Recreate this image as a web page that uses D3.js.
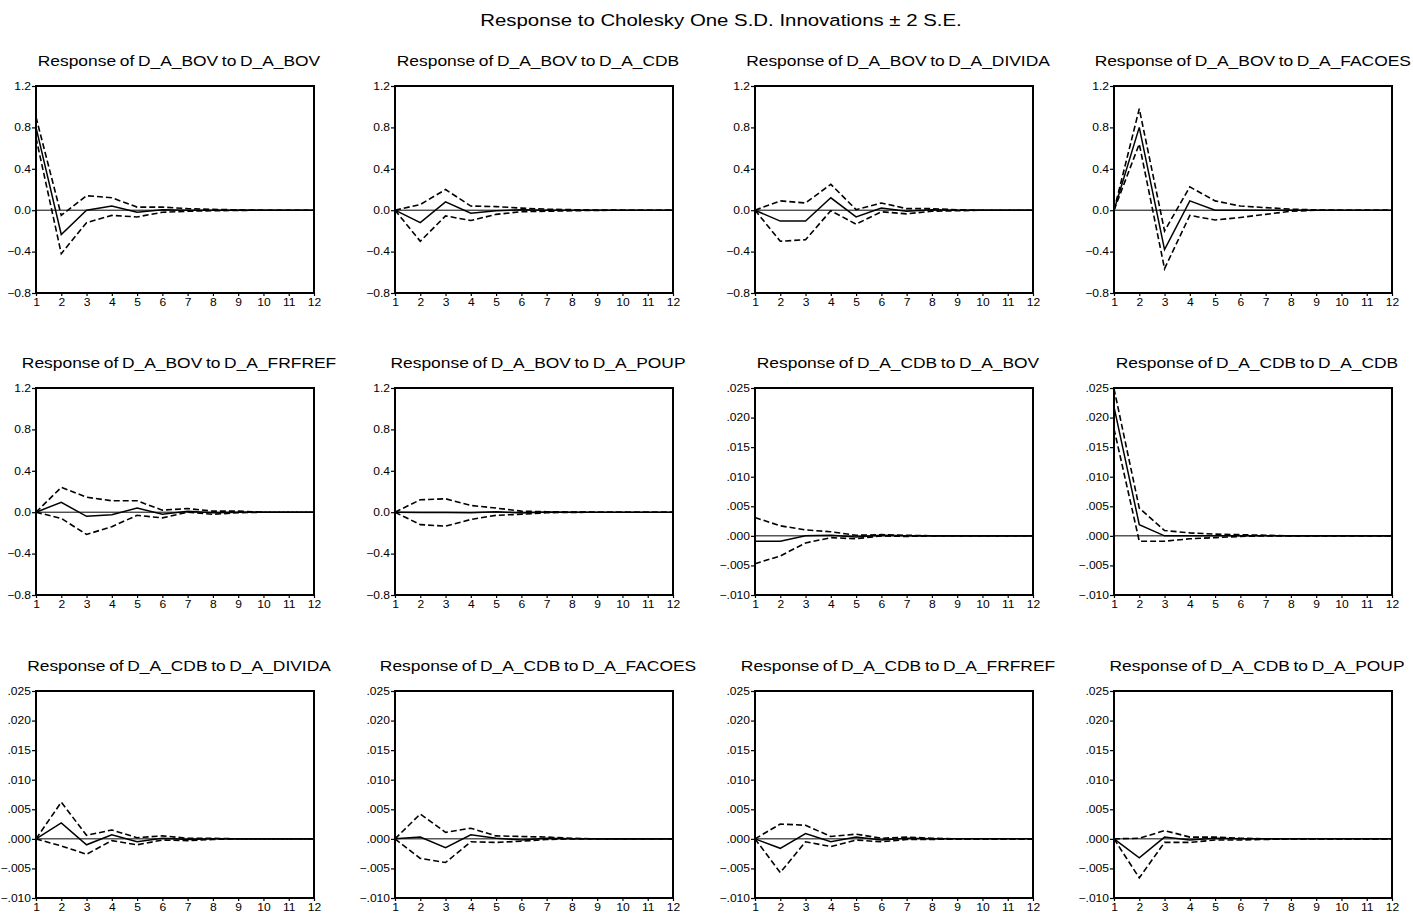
<!DOCTYPE html>
<html>
<head>
<meta charset="utf-8">
<script src="https://cdn.jsdelivr.net/npm/d3@7"></script>
<style>
  body { margin: 0; background: #fff; }
  text { font-family: "Liberation Sans", Arial, sans-serif; fill: #000; }
</style>
</head>
<body>
<div id="chart"></div>
<script>
// periods of the impulse response
var periods = [1, 2, 3, 4, 5, 6, 7, 8, 9, 10, 11, 12];

var panelTitles = [
  "Response of D_A_BOV to D_A_BOV",
  "Response of D_A_BOV to D_A_CDB",
  "Response of D_A_BOV to D_A_DIVIDA",
  "Response of D_A_BOV to D_A_FACOES",
  "Response of D_A_BOV to D_A_FRFREF",
  "Response of D_A_BOV to D_A_POUP",
  "Response of D_A_CDB to D_A_BOV",
  "Response of D_A_CDB to D_A_CDB",
  "Response of D_A_CDB to D_A_DIVIDA",
  "Response of D_A_CDB to D_A_FACOES",
  "Response of D_A_CDB to D_A_FRFREF",
  "Response of D_A_CDB to D_A_POUP"
];

// which y axis each panel uses
var panelScale = ["bov", "bov", "bov", "bov", "bov", "bov", "cdb", "cdb", "cdb", "cdb", "cdb", "cdb"];

var bovTicks = [-0.8, -0.4, 0.0, 0.4, 0.8, 1.2];
var cdbTicks = [-0.010, -0.005, 0.000, 0.005, 0.010, 0.015, 0.020, 0.025];

// impulse responses (solid line)
var responses = [
  [0.80, -0.235, 0.0, 0.04, -0.02, 0.005, 0.0, 0.0, 0.0, 0.0, 0.0, 0.0],
  [0.0, -0.12, 0.08, -0.03, -0.005, 0.005, 0.0, 0.0, 0.0, 0.0, 0.0, 0.0],
  [0.0, -0.105, -0.105, 0.12, -0.065, 0.02, -0.01, 0.005, 0.0, 0.0, 0.0, 0.0],
  [0.0, 0.80, -0.38, 0.09, 0.0, 0.0, 0.0, 0.0, 0.0, 0.0, 0.0, 0.0],
  [0.0, 0.095, -0.04, -0.025, 0.04, -0.02, 0.01, -0.005, 0.0, 0.0, 0.0, 0.0],
  [0.0, -0.002, -0.003, -0.005, 0.005, -0.008, 0.002, 0.0, 0.0, 0.0, 0.0, 0.0],
  [-0.0009, -0.0009, 0.0, 0.0001, -0.0002, 0.0001, 0.0, 0.0, 0.0, 0.0, 0.0, 0.0],
  [0.0218, 0.0019, 0.0, 0.0, 0.0, 0.0, 0.0, 0.0, 0.0, 0.0, 0.0, 0.0],
  [0.0, 0.0027, -0.001, 0.0007, -0.0005, 0.0001, -0.0001, 0.0, 0.0, 0.0, 0.0, 0.0],
  [0.0, 0.0003, -0.0015, 0.0007, 0.0001, -0.0002, 0.0001, 0.0, 0.0, 0.0, 0.0, 0.0],
  [0.0, -0.0016, 0.0009, -0.0005, 0.0003, -0.0002, 0.0001, 0.0, 0.0, 0.0, 0.0, 0.0],
  [0.0, -0.0032, 0.0003, -0.0002, 0.0001, 0.0, 0.0, 0.0, 0.0, 0.0, 0.0, 0.0]
];

// +2 S.E. band (dashed)
var upperBand = [
  [0.90, -0.05, 0.14, 0.12, 0.03, 0.03, 0.015, 0.008, 0.003, 0.0, 0.0, 0.0],
  [0.0, 0.055, 0.20, 0.04, 0.035, 0.02, 0.01, 0.005, 0.002, 0.0, 0.0, 0.0],
  [0.0, 0.09, 0.07, 0.25, 0.005, 0.07, 0.015, 0.015, 0.005, 0.0, 0.0, 0.0],
  [0.0, 0.98, -0.20, 0.225, 0.09, 0.04, 0.025, 0.01, 0.003, 0.0, 0.0, 0.0],
  [0.0, 0.24, 0.145, 0.11, 0.11, 0.02, 0.035, 0.01, 0.01, 0.0, 0.0, 0.0],
  [0.0, 0.12, 0.13, 0.065, 0.04, 0.01, 0.005, 0.002, 0.0, 0.0, 0.0, 0.0],
  [0.0031, 0.0017, 0.001, 0.0007, 0.0001, 0.0002, 0.0001, 0.0, 0.0, 0.0, 0.0, 0.0],
  [0.0249, 0.0047, 0.0009, 0.0005, 0.0003, 0.0002, 0.0001, 0.0, 0.0, 0.0, 0.0, 0.0],
  [0.0, 0.0062, 0.0006, 0.0015, 0.0002, 0.0005, 0.0001, 0.0001, 0.0, 0.0, 0.0, 0.0],
  [0.0, 0.0042, 0.0011, 0.0018, 0.0005, 0.0004, 0.0003, 0.0001, 0.0, 0.0, 0.0, 0.0],
  [0.0, 0.0025, 0.0023, 0.0004, 0.0008, 0.0001, 0.0003, 0.0001, 0.0, 0.0, 0.0, 0.0],
  [0.0, 0.0001, 0.0014, 0.0003, 0.0003, 0.0001, 0.0, 0.0, 0.0, 0.0, 0.0, 0.0]
];

// -2 S.E. band (dashed)
var lowerBand = [
  [0.70, -0.42, -0.12, -0.05, -0.065, -0.02, -0.01, -0.005, -0.002, 0.0, 0.0, 0.0],
  [0.0, -0.30, -0.055, -0.10, -0.04, -0.015, -0.01, -0.005, -0.002, 0.0, 0.0, 0.0],
  [0.0, -0.30, -0.285, -0.005, -0.135, -0.015, -0.035, -0.01, -0.005, 0.0, 0.0, 0.0],
  [0.0, 0.64, -0.565, -0.05, -0.095, -0.07, -0.04, -0.01, 0.0, 0.0, 0.0, 0.0],
  [0.0, -0.06, -0.215, -0.14, -0.03, -0.055, 0.0, -0.02, -0.005, 0.0, 0.0, 0.0],
  [0.0, -0.12, -0.135, -0.07, -0.03, -0.02, -0.005, -0.002, 0.0, 0.0, 0.0, 0.0],
  [-0.0047, -0.0034, -0.0012, -0.0003, -0.0005, 0.0, -0.0001, 0.0, 0.0, 0.0, 0.0, 0.0],
  [0.0181, -0.0009, -0.0009, -0.0005, -0.0003, -0.0001, 0.0, 0.0, 0.0, 0.0, 0.0, 0.0],
  [0.0, -0.0012, -0.0026, -0.0003, -0.001, -0.0002, -0.0003, -0.0001, 0.0, 0.0, 0.0, 0.0],
  [0.0, -0.0033, -0.004, -0.0005, -0.0006, -0.0004, -0.0001, 0.0, 0.0, 0.0, 0.0, 0.0],
  [0.0, -0.0057, -0.0005, -0.0013, -0.0002, -0.0005, -0.0001, -0.0001, 0.0, 0.0, 0.0, 0.0],
  [0.0, -0.0066, -0.0006, -0.0006, -0.0002, -0.0002, -0.0001, 0.0, 0.0, 0.0, 0.0, 0.0]
];

var svgWidth = 1413;
var svgHeight = 921;

// panel grid
var colLeft = [36, 395, 755, 1114];
var rowTop = [86, 388, 691];
var panelW = 278;
var panelH = 207;

var svg = d3.select("#chart")
  .append("svg")
  .attr("width", svgWidth)
  .attr("height", svgHeight);

// the reference text looks a bit wide, so glyphs get a horizontal stretch
svg.append("text")
  .attr("transform", "translate(721, 26) scale(1.2,1)")
  .attr("text-anchor", "middle")
  .style("font-size", "17px")
  .text("Response to Cholesky One S.D. Innovations \u00b1 2 S.E.");

var xScale = d3.scaleLinear().domain([1, 12]).range([0, panelW]);

var fmtBov = d3.format(".1f");
var fmtCdb = function(d) { return d3.format(".3f")(d).replace("0.", "."); };

panelTitles.forEach(function(title, i) {
  var col = i % 4;
  var row = Math.floor(i / 4);
  var isBov = panelScale[i] === "bov";

  var yScale = d3.scaleLinear()
    .domain(isBov ? [-0.8, 1.2] : [-0.010, 0.025])
    .range([panelH, 0]);

  var g = svg.append("g")
    .attr("transform", `translate(${colLeft[col]}, ${rowTop[row]})`);

  // title, pulled back in if it would run past the right edge
  var titleText = g.append("text")
    .attr("text-anchor", "middle")
    .style("font-size", "15px")
    .style("word-spacing", "-1px")
    .text(title);
  var halfW = titleText.node().getComputedTextLength() * 1.16 / 2;
  var cx = panelW / 2 + 4;
  var overflow = colLeft[col] + cx + halfW - (svgWidth - 2);
  if (overflow > 0) cx -= overflow;
  titleText.attr("transform", `translate(${cx}, -20) scale(1.16,1)`);

  // y axis
  var leftAxis = d3.axisLeft(yScale)
    .tickValues(isBov ? bovTicks : cdbTicks)
    .tickFormat(isBov ? fmtBov : fmtCdb)
    .tickSize(4);

  var yAxisG = g.append("g").call(leftAxis);
  yAxisG.select(".domain").remove();
  yAxisG.attr("font-size", null).attr("font-family", null);
  yAxisG.selectAll(".tick line").attr("stroke-width", 1.2);
  yAxisG.selectAll(".tick text")
    .attr("x", 0)
    .attr("transform", "translate(-5,0) scale(1.15,1)")
    .style("font-size", "10.5px");

  // x axis
  var bottomAxis = d3.axisBottom(xScale)
    .tickValues(periods)
    .tickFormat(d3.format("d"))
    .tickSize(3);

  var xAxisG = g.append("g")
    .attr("transform", `translate(0, ${panelH})`)
    .call(bottomAxis);
  xAxisG.select(".domain").remove();
  xAxisG.attr("font-size", null).attr("font-family", null);
  xAxisG.selectAll(".tick line").attr("stroke-width", 1.2);
  xAxisG.selectAll(".tick text")
    .attr("y", 0)
    .attr("dy", null)
    .attr("transform", "translate(0,13) scale(1.15,1)")
    .style("font-size", "10.5px");

  // zero line
  g.append("line")
    .attr("x1", 0).attr("x2", panelW)
    .attr("y1", yScale(0)).attr("y2", yScale(0))
    .attr("stroke", "#000")
    .attr("stroke-width", 1);

  var line = d3.line()
    .x(function(d, k) { return xScale(periods[k]); })
    .y(function(d) { return yScale(d); });

  g.append("path")
    .datum(upperBand[i])
    .attr("d", line)
    .attr("fill", "none")
    .attr("stroke", "#000")
    .attr("stroke-width", 1.6)
    .attr("stroke-dasharray", "6,3");

  g.append("path")
    .datum(lowerBand[i])
    .attr("d", line)
    .attr("fill", "none")
    .attr("stroke", "#000")
    .attr("stroke-width", 1.6)
    .attr("stroke-dasharray", "6,3");

  g.append("path")
    .datum(responses[i])
    .attr("d", line)
    .attr("fill", "none")
    .attr("stroke", "#000")
    .attr("stroke-width", 1.5);

  // frame
  g.append("rect")
    .attr("x", 0).attr("y", 0)
    .attr("width", panelW).attr("height", panelH)
    .attr("fill", "none")
    .attr("stroke", "#000")
    .attr("stroke-width", 2);
});
</script>
</body>
</html>
